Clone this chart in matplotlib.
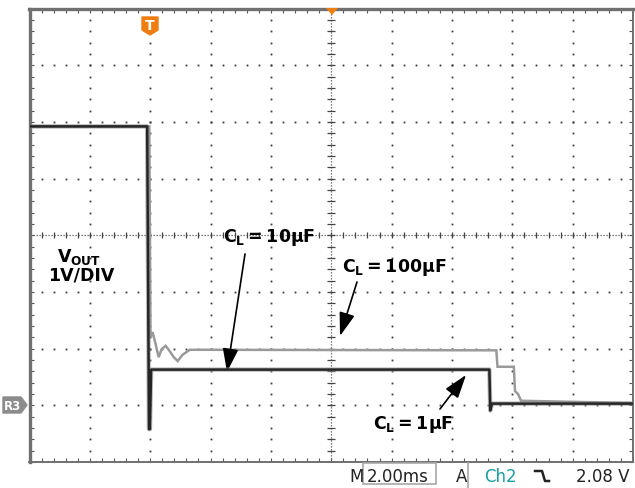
import numpy as np
import matplotlib
matplotlib.use("Agg")
import matplotlib.pyplot as plt
from matplotlib.patches import Polygon, Rectangle
from matplotlib.lines import Line2D

plt.rcParams['font.family'] = ['DejaVu Sans']
plt.rcParams['mathtext.fontset'] = 'custom'
plt.rcParams['mathtext.rm'] = 'DejaVu Sans:bold'
plt.rcParams['mathtext.it'] = 'DejaVu Sans:bold'
plt.rcParams['mathtext.bf'] = 'DejaVu Sans:bold'

# scope settings: 2 ms/div, 1 V/div, trigger at t = 0
t_min, t_max = -4.0, 16.0
v_min, v_max = -1.0, 7.0

# C_L = 1uF / 10uF trace (dark)
dark_t = [-4.0, -0.10, -0.04, -0.01, 0.03, 11.24, 11.27, 11.33, 16.0]
dark_v = [4.92, 4.92, -0.42, -0.42, 0.63, 0.63, -0.09, 0.03, 0.03]

# C_L = 100uF trace (light)
light_t = [-4.0, -0.03, 0.01, 0.08, 0.18, 0.28, 0.38, 0.51, 0.64, 0.78,
           0.91, 1.07, 1.31, 11.47, 11.51, 12.05, 12.09, 12.19, 12.29, 16.0]
light_v = [4.92, 4.92, 1.20, 1.29, 1.08, 0.85, 0.99, 1.05, 0.96, 0.85,
           0.78, 0.89, 0.98, 0.97, 0.68, 0.68, 0.25, 0.20, 0.08, 0.04]

W, H = 635, 489
fig = plt.figure(figsize=(W / 100, H / 100), dpi=100)
fig.patch.set_facecolor('white')

def fx(x):
    return x / W

def fy(y):
    return 1 - y / H

ax = fig.add_axes([fx(29.5), fy(463), (633 - 29.5) / W, (463 - 9.5) / H])
ax.set_xlim(t_min, t_max)
ax.set_ylim(v_min, v_max)

# graticule dots
minor_t = np.arange(t_min, t_max + 0.001, 0.4)
minor_v = np.arange(v_min, v_max + 0.001, 0.2)
for tg in [-2, 0, 2, 4, 8, 10, 12, 14]:
    ax.plot(np.full(len(minor_v), tg), minor_v, ls='none', marker='s',
            ms=1.3, mew=0, color='#3a3a3a', zorder=1)
for vg in [0, 1, 2, 4, 5, 6]:
    ax.plot(minor_t, np.full(len(minor_t), vg), ls='none', marker='s',
            ms=1.3, mew=0, color='#3a3a3a', zorder=1)

# center cross with ticks
ax.axvline(6, ls=(0, (1, 1.4)), lw=0.9, color='#555555', zorder=1)
ax.axhline(3, ls=(0, (1, 1.4)), lw=0.9, color='#555555', zorder=1)
ax.plot(np.full(len(minor_v), 6.0), minor_v, ls='none', marker='_',
        ms=5.5, mew=0.9, color='#444444', zorder=1)
ax.plot(minor_t, np.full(len(minor_t), 3.0), ls='none', marker='|',
        ms=5, mew=0.9, color='#444444', zorder=1)

# border
ax.set_xticks(minor_t)
ax.set_yticks(minor_v)
ax.tick_params(direction='in', length=3, width=0.8, color='#555555',
               top=True, right=True, labelbottom=False, labelleft=False)
for side, lw in [('left', 2.4), ('top', 2.4), ('bottom', 1.4), ('right', 1.4)]:
    ax.spines[side].set_linewidth(lw)
    ax.spines[side].set_color('#707070')

# traces
ax.plot(light_t, light_v, color='#9a9a9a', lw=1.8, zorder=3,
        solid_joinstyle='miter')
ax.plot(dark_t, dark_v, color='#8a8a8a', lw=3.2, alpha=0.6, zorder=4)
ax.plot(dark_t, dark_v, color='#262626', lw=1.8, zorder=5)

# annotations
ax.text(fx(57), fy(262), r'$\mathrm{V_{OUT}}$', transform=fig.transFigure,
        fontsize=12.5, ha='left', va='baseline')
ax.text(fx(48), fy(280), '1V/DIV', transform=fig.transFigure,
        fontsize=12.5, fontweight='bold', ha='left', va='baseline')

labels = [
    (r'$\mathrm{C_L=10µF}$', 223, 242, (245, 255), (227, 373)),
    (r'$\mathrm{C_L=100µF}$', 342, 272, (357, 283), (340, 337)),
    (r'$\mathrm{C_L=1µF}$', 373, 429, (440, 410), (466, 376)),
]
for txt, lx, ly, tail, tip in labels:
    ax.text(fx(lx), fy(ly), txt, transform=fig.transFigure, fontsize=12.5,
            ha='left', va='baseline')
    ax.annotate('', xy=(fx(tip[0]), fy(tip[1])), xycoords='figure fraction',
                xytext=(fx(tail[0]), fy(tail[1])), textcoords='figure fraction',
                arrowprops=dict(arrowstyle='-|>,head_length=0.9,head_width=0.3',
                                color='black', lw=1.2, shrinkA=0, shrinkB=0,
                                mutation_scale=16))

# trigger marker and position marker
fig.patches.append(Polygon([(fx(142), fy(18)), (fx(158), fy(18)), (fx(158), fy(31)),
                            (fx(150), fy(36)), (fx(142), fy(31))], closed=True,
                           transform=fig.transFigure, facecolor='#f07d12',
                           edgecolor='#f07d12', lw=1, joinstyle='round'))
fig.text(fx(150), fy(26.5), 'T', color='white', fontsize=10, fontweight='bold',
         ha='center', va='center')
fig.patches.append(Polygon([(fx(326), fy(9)), (fx(338), fy(9)), (fx(332), fy(16))],
                           closed=True, transform=fig.transFigure,
                           facecolor='#f07d12', edgecolor='none', zorder=10))

# ground reference marker
fig.patches.append(Polygon([(fx(3), fy(398)), (fx(21), fy(398)), (fx(27), fy(406)),
                            (fx(21), fy(414)), (fx(3), fy(414))], closed=True,
                           transform=fig.transFigure, facecolor='#8c8c8c',
                           edgecolor='#8c8c8c', lw=1, joinstyle='round'))
fig.text(fx(12.5), fy(406.5), 'R3', color='white', fontsize=8.5, fontweight='bold',
         ha='center', va='center')

# status bar
fig.text(fx(349), fy(482), 'M', fontsize=12, color='#222222', va='baseline')
fig.patches.append(Rectangle((fx(363), fy(485)), fx(436 - 363), (485 - 463.5) / H,
                             transform=fig.transFigure, facecolor='none',
                             edgecolor='#a8a8a8', lw=1.2))
fig.text(fx(367), fy(482), '2.00ms', fontsize=12, color='#222222', va='baseline')
fig.text(fx(456), fy(482), 'A', fontsize=12, color='#222222', va='baseline')
fig.lines.append(Line2D([fx(468), fx(468)], [fy(464), fy(489)],
                        transform=fig.transFigure, color='#a8a8a8', lw=1.2))
fig.text(fx(484), fy(482), 'Ch2', fontsize=12, color='#1a9e9e', va='baseline')
fig.lines.append(Line2D([fx(535), fx(542), fx(545), fx(549)],
                        [fy(472), fy(472), fy(482), fy(482)],
                        transform=fig.transFigure, color='#222222', lw=1.8))
fig.text(fx(576), fy(482), '2.08 V', fontsize=12, color='#222222', va='baseline')

fig.savefig('out.png', dpi=100)
